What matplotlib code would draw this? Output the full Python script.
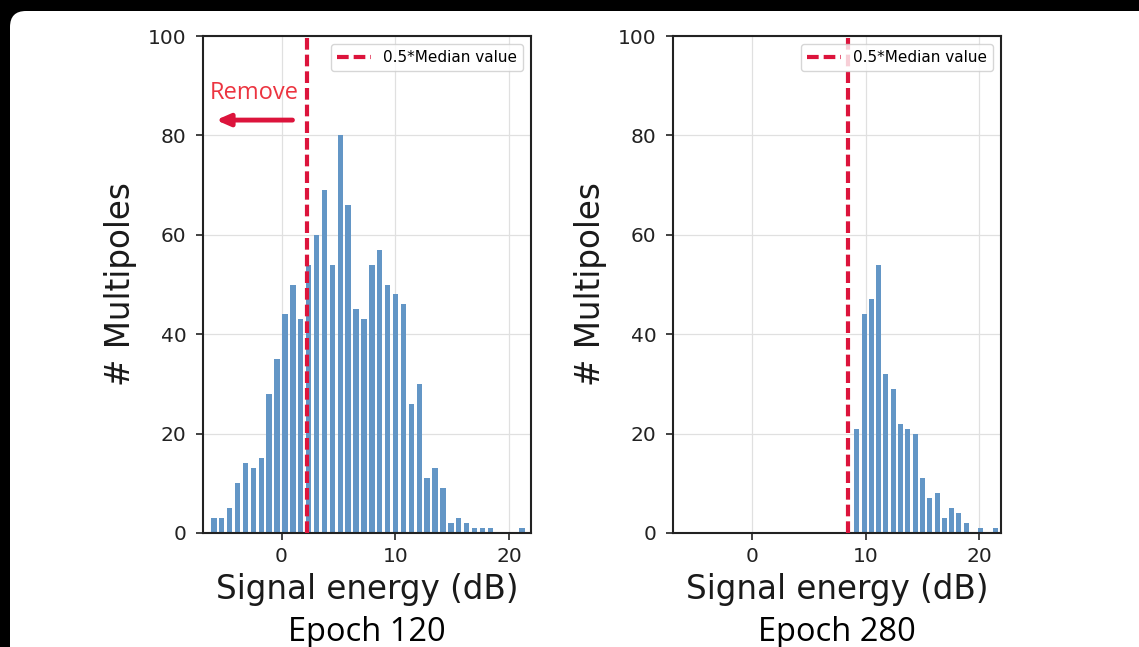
import numpy as np
import matplotlib.pyplot as plt
from matplotlib.patches import FancyBboxPatch

# histogram counts
counts_120 = [3, 3, 5, 10, 14, 13, 15, 28, 35, 44, 50, 43, 54, 60, 69, 54, 80, 66, 45, 43,
              54, 57, 50, 48, 46, 26, 30, 11, 13, 9, 2, 3, 2, 1, 1, 1, 0, 0, 0, 1]
counts_280 = [21, 44, 47, 54, 32, 29, 22, 21, 20, 11, 7, 8, 3, 5, 4, 2, 0, 1, 0, 1]

# bin range (dB) of each histogram
range_120 = (-6.29, 21.45)
range_280 = (8.91, 21.73)

# 0.5 * median thresholds
thr_120 = 2.25
thr_280 = 8.47

titles = ['Epoch 120', 'Epoch 280']

bar_color = '#6396c6'
line_color = '#dc143c'

fig = plt.figure(figsize=(11.39, 6.47), dpi=100, facecolor='black')

# white rounded card on black background
bg = fig.add_axes([0, 0, 1, 1], zorder=-1)
bg.set_xlim(0, 1139)
bg.set_ylim(647, 0)
bg.axis('off')
bg.add_patch(FancyBboxPatch((10, 11), 1200, 660, boxstyle='round,pad=0,rounding_size=16',
                            facecolor='white', edgecolor='none'))

ax1 = fig.add_axes([0.1782, 0.1762, 0.288, 0.768])
ax2 = fig.add_axes([0.5909, 0.1762, 0.288, 0.768])

for ax, counts, rng, thr, title in zip([ax1, ax2], [counts_120, counts_280],
                                      [range_120, range_280], [thr_120, thr_280], titles):
    edges = np.linspace(rng[0], rng[1], len(counts) + 1)
    centers = (edges[:-1] + edges[1:]) / 2
    width = edges[1] - edges[0]
    ax.bar(centers, counts, width=width * 0.68, color=bar_color, zorder=2)
    ax.axvline(thr, color=line_color, lw=3, linestyle=(0, (2.8, 1.2)),
               label='0.5*Median value', zorder=3)
    ax.set_xlim(-6.9, 21.9)
    ax.set_ylim(0, 100)
    ax.set_xticks([0, 10, 20])
    ax.set_yticks([0, 20, 40, 60, 80, 100])
    ax.grid(True, color='#e0e0e0', lw=0.9)
    ax.set_axisbelow(True)
    ax.tick_params(labelsize=14.5, length=5, width=1.2, pad=5, colors='#222222')
    ax.tick_params(axis='y', pad=7)
    for s in ax.spines.values():
        s.set_linewidth(1.5)
        s.set_color('#222222')
    ax.set_xlabel('Signal energy (dB)', fontsize=23.5, labelpad=5, color='#1a1a1a')
    ax.set_ylabel('# Multipoles', fontsize=23.5, labelpad=8, color='#1a1a1a')
    ax.legend(loc='upper right', fontsize=11, handlelength=2.2)
    ax.text(0.5, -0.2, title, transform=ax.transAxes, ha='center', va='center',
            fontsize=23.5, family='Open Sans', color='black')

# "Remove" annotation on the first panel
ax1.text(-2.4, 88.6, 'Remove', ha='center', va='center', fontsize=17,
         family='Open Sans', color='#ec3440')
ax1.annotate('', xy=(-6.0, 83.1), xytext=(1.2, 83.1),
             arrowprops=dict(arrowstyle='-|>,head_length=0.8,head_width=0.35',
                             color=line_color, lw=3.5))

plt.savefig('out.png', dpi=100, facecolor=fig.get_facecolor())
